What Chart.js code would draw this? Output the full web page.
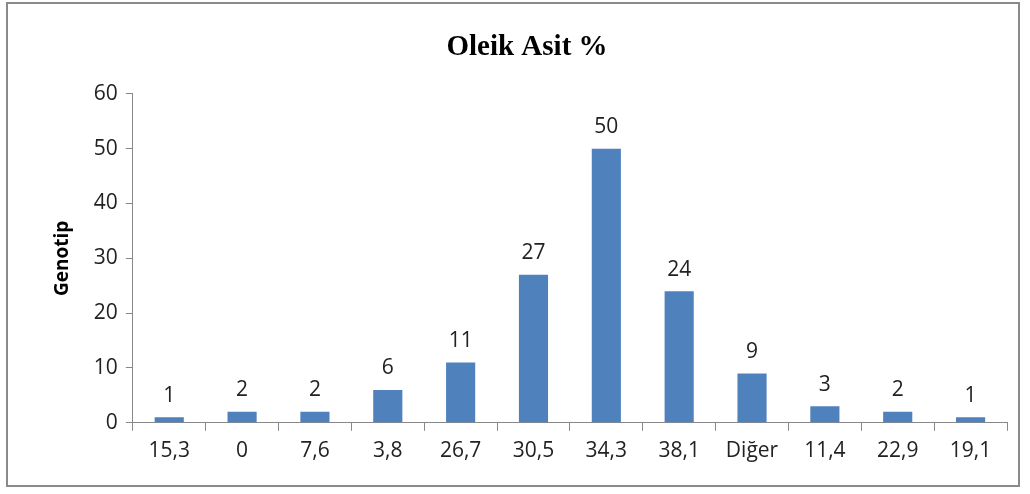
<!DOCTYPE html>
<html>
<head>
<meta charset="utf-8">
<script src="https://cdn.jsdelivr.net/npm/chart.js@4.4.0/dist/chart.umd.min.js"></script>
<style>
  html, body { margin: 0; padding: 0; background: #fff; }
  #frame {
    position: absolute; left: 6px; top: 2px; width: 1014px; height: 485px;
    border: 2px solid #8a8a8a; box-sizing: border-box;
  }
  #wrap { position: absolute; left: 0; top: 0; width: 1030px; height: 494px; }
</style>
</head>
<body>
<div id="frame"></div>
<div id="wrap"><canvas id="chart"></canvas></div>
<script>
// Kategoriler ve değerler
const categories = ['15,3', '0', '7,6', '3,8', '26,7', '30,5', '34,3', '38,1', 'Diğer', '11,4', '22,9', '19,1'];
const genotipCounts = [1, 2, 2, 6, 11, 27, 50, 24, 9, 3, 2, 1];
const yTicks = [0, 10, 20, 30, 40, 50, 60];

const labelFont = "Open Sans, 'DejaVu Sans', sans-serif";

// Çubukların üstüne değer yaz
const valueLabels = {
    id: 'valueLabels',
    afterDatasetsDraw(chart) {
        const ctx = chart.ctx;
        const meta = chart.getDatasetMeta(0);
        ctx.save();
        ctx.fillStyle = '#222';
        ctx.font = '21px ' + labelFont;
        ctx.textAlign = 'center';
        ctx.textBaseline = 'bottom';
        meta.data.forEach((bar, i) => {
            ctx.fillText(String(genotipCounts[i]), bar.x, bar.y - 11);
        });
        ctx.restore();
    }
};

const ctx = document.getElementById('chart').getContext('2d');
new Chart(ctx, {
    type: 'bar',
    data: {
        labels: categories,
        datasets: [{
            label: 'Genotip',
            data: genotipCounts,
            backgroundColor: '#4f81bd',
            borderWidth: 0,
            barPercentage: 0.8,
            categoryPercentage: 0.5
        }]
    },
    options: {
        responsive: true,
        maintainAspectRatio: false,
        animation: false,
        layout: { padding: { left: 47, right: 23, top: 20, bottom: 22 } },
        plugins: {
            legend: { display: false },
            tooltip: { enabled: false },
            title: {
                display: true,
                text: 'Oleik Asit %',
                color: '#000',
                font: { family: "'Liberation Serif', serif", size: 29, weight: 'bold' },
                padding: { top: 10, bottom: 29 }
            }
        },
        scales: {
            x: {
                grid: { display: true, drawOnChartArea: false, color: '#888', tickLength: 8 },
                border: { color: '#888', width: 1 },
                ticks: { color: '#222', font: { family: labelFont, size: 21 }, padding: 8 }
            },
            y: {
                min: 0,
                max: 60,
                afterBuildTicks(axis) { axis.ticks = yTicks.map(v => ({ value: v })); },
                grid: { display: true, drawOnChartArea: false, color: '#888', tickLength: 7 },
                border: { color: '#888', width: 1 },
                ticks: { color: '#222', font: { family: labelFont, size: 21 }, padding: 8 },
                title: {
                    display: true,
                    text: 'Genotip',
                    color: '#000',
                    font: { family: labelFont, size: 19, weight: 'bold' },
                    padding: { bottom: 12 }
                }
            }
        }
    },
    plugins: [valueLabels]
});
</script>
</body>
</html>
